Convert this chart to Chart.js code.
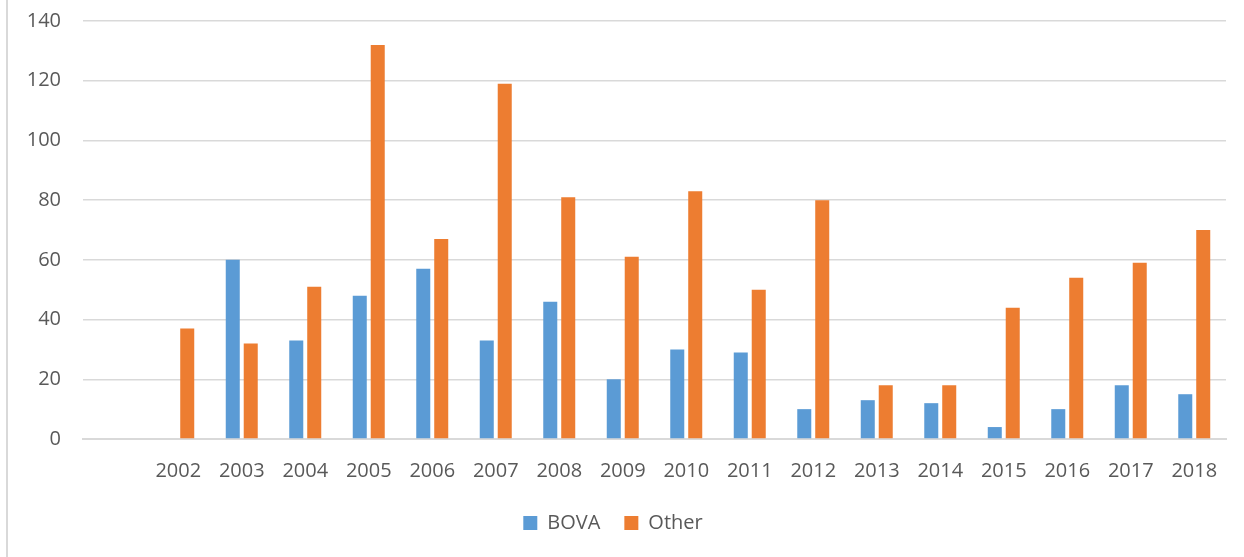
<!DOCTYPE html>
<html>
<head>
<meta charset="utf-8">
<script src="https://cdn.jsdelivr.net/npm/chart.js@4"></script>
<style>
  html, body { margin: 0; padding: 0; background: #fff; }
  #wrap { position: relative; width: 1244px; height: 557px; }
  #edge { position: absolute; left: 6px; top: 0; width: 2px; height: 557px; background: #d9d9d9; }
</style>
</head>
<body>
<div id="wrap">
  <div id="edge"></div>
  <canvas id="chart" width="1244" height="557"></canvas>
</div>
<script>
// categories (first slot is an empty category, as in the original)
const years = ['', '2002', '2003', '2004', '2005', '2006', '2007', '2008', '2009',
               '2010', '2011', '2012', '2013', '2014', '2015', '2016', '2017', '2018'];
const bova  = [null, null, 60, 33, 48, 57, 33, 46, 20, 30, 29, 10, 13, 12, 4, 10, 18, 15];
const other = [null, 37, 32, 51, 132, 67, 119, 81, 61, 83, 50, 80, 18, 18, 44, 54, 59, 70];
const yTicks = [0, 20, 40, 60, 80, 100, 120, 140];

const txt = '#595959';
const font = { family: "'Open Sans', 'Liberation Sans', sans-serif", size: 20 };

const ctx = document.getElementById('chart').getContext('2d');
new Chart(ctx, {
  type: 'bar',
  data: {
    labels: years,
    datasets: [
      { label: 'BOVA', data: bova, backgroundColor: '#5B9BD5', barPercentage: 0.78, categoryPercentage: 0.566 },
      { label: 'Other', data: other, backgroundColor: '#ED7D31', barPercentage: 0.78, categoryPercentage: 0.566 }
    ]
  },
  options: {
    responsive: false,
    animation: false,
    layout: { padding: { top: 0, right: 18, left: 0, bottom: 14 } },
    plugins: {
      tooltip: { enabled: false },
      legend: {
        position: 'bottom',
        labels: { color: txt, font: font, boxWidth: 14, boxHeight: 14, padding: 24 }
      }
    },
    scales: {
      x: {
        afterFit: (s) => { s.height = 50; },
        grid: { display: false, drawTicks: false },
        border: { color: '#d9d9d9', width: 2 },
        ticks: { color: txt, font: font, padding: 20, maxRotation: 0 }
      },
      y: {
        min: 0, max: 140,
        afterFit: (s) => { s.width = 83; s.paddingTop = 21; s.paddingBottom = 12; },
        afterBuildTicks: (s) => { s.ticks = yTicks.map(v => ({ value: v })); },
        grid: { color: '#d9d9d9', lineWidth: 1.5, drawTicks: false },
        border: { display: false },
        ticks: { color: txt, font: font, padding: 22 }
      }
    }
  }
});
</script>
</body>
</html>
